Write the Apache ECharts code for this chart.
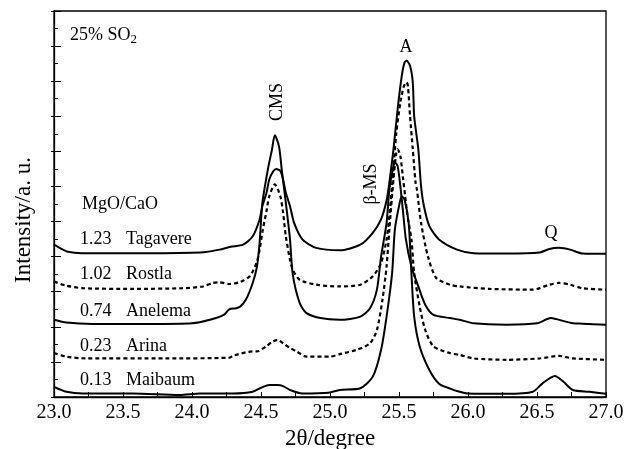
<!DOCTYPE html>
<html>
<head>
<meta charset="utf-8">
<title>XRD patterns, 25% SO2</title>
<script src="https://cdn.jsdelivr.net/npm/echarts@6/dist/echarts.min.js"></script>
<style>
  html, body { margin: 0; padding: 0; background: #fff; }
  #chart { width: 624px; height: 449px; }
</style>
</head>
<body>
<div id="chart"></div>
<script>
// Diffractograms (2θ, intensity with vertical offset) of sulfated samples
const tagavere = [
  [23.0,4.34],[23.05,4.23],[23.1,4.14],[23.2,4.1],[23.5,4.1],[23.8,4.1],[24.0,4.11],[24.1,4.13],
  [24.2,4.2],[24.28,4.28],[24.37,4.34],[24.44,4.58],[24.49,5.06],[24.51,5.44],[24.54,5.82],
  [24.56,6.2],[24.59,6.44],[24.61,6.5],[24.64,6.44],[24.66,6.2],[24.68,5.82],[24.71,5.44],
  [24.74,4.96],[24.8,4.49],[24.9,4.25],[25.07,4.18],[25.22,4.34],[25.31,4.68],[25.37,5.06],
  [25.41,5.6],[25.43,6.1],[25.46,7.06],[25.49,8.2],[25.52,9.15],[25.54,9.53],[25.555,9.58],
  [25.58,9.44],[25.6,8.96],[25.61,8.0],[25.64,7.06],[25.66,6.0],[25.68,5.45],[25.72,4.87],
  [25.79,4.49],[25.92,4.2],[26.04,4.1],[26.28,4.09],[26.52,4.12],[26.59,4.22],[26.66,4.25],
  [26.74,4.2],[26.83,4.09],[27.0,4.08]
];
const rostla = [
  [23.0,3.29],[23.09,3.17],[23.21,3.1],[23.57,3.08],[23.93,3.1],[24.08,3.15],[24.15,3.25],
  [24.2,3.27],[24.27,3.22],[24.35,3.28],[24.42,3.45],[24.47,3.85],[24.49,4.2],[24.51,4.7],
  [24.54,5.3],[24.56,5.72],[24.6,6.06],[24.64,5.72],[24.66,5.25],[24.68,4.58],[24.71,3.91],
  [24.73,3.63],[24.78,3.34],[24.9,3.2],[25.07,3.15],[25.22,3.2],[25.31,3.44],[25.37,3.82],
  [25.41,4.49],[25.43,5.15],[25.46,6.5],[25.48,7.5],[25.51,8.4],[25.535,8.85],[25.555,8.97],
  [25.565,8.85],[25.58,8.0],[25.6,7.06],[25.62,6.11],[25.63,5.91],[25.66,4.96],[25.71,4.0],
  [25.77,3.39],[25.87,3.2],[25.94,3.15],[26.16,3.08],[26.47,3.06],[26.59,3.2],[26.66,3.25],
  [26.74,3.2],[26.83,3.1],[27.0,3.06]
];
const anelema = [
  [23.0,2.2],[23.09,2.12],[23.28,2.08],[23.69,2.08],[24.0,2.1],[24.13,2.2],[24.23,2.34],
  [24.27,2.5],[24.32,2.53],[24.35,2.58],[24.39,2.77],[24.44,3.25],[24.47,3.7],[24.49,4.4],
  [24.51,5.53],[24.55,6.49],[24.58,7.06],[24.6,7.46],[24.63,7.15],[24.65,6.49],[24.68,5.53],
  [24.71,4.5],[24.73,3.5],[24.78,2.68],[24.83,2.39],[24.93,2.25],[25.07,2.2],[25.22,2.29],
  [25.29,2.53],[25.34,3.06],[25.37,4.0],[25.41,4.96],[25.43,5.91],[25.46,6.58],[25.47,6.68],
  [25.49,6.58],[25.51,6.0],[25.53,5.25],[25.55,4.49],[25.59,3.72],[25.64,3.15],[25.69,2.63],
  [25.75,2.34],[25.87,2.25],[25.94,2.2],[26.04,2.1],[26.28,2.06],[26.5,2.1],[26.6,2.25],
  [26.64,2.22],[26.76,2.1],[26.83,2.09],[27.0,2.06]
];
const arina = [
  [23.0,1.25],[23.09,1.15],[23.23,1.1],[23.81,1.1],[24.27,1.12],[24.3,1.18],[24.44,1.3],
  [24.47,1.3],[24.54,1.45],[24.58,1.57],[24.62,1.63],[24.66,1.53],[24.71,1.4],[24.76,1.29],
  [24.83,1.15],[25.0,1.15],[25.07,1.22],[25.19,1.34],[25.29,1.53],[25.34,1.91],[25.38,2.77],
  [25.41,3.72],[25.43,4.77],[25.46,6.2],[25.48,6.95],[25.49,7.06],[25.51,6.86],[25.53,6.2],
  [25.545,5.72],[25.56,5.2],[25.59,4.49],[25.61,3.53],[25.65,2.58],[25.69,1.91],[25.75,1.44],
  [25.87,1.25],[25.94,1.2],[26.04,1.1],[26.28,1.06],[26.52,1.1],[26.66,1.17],[26.76,1.1],
  [27.0,1.06]
];
const maibaum = [
  [23.0,0.29],[23.09,0.15],[23.21,0.1],[23.57,0.1],[23.91,0.06],[24.06,0.1],[24.3,0.1],
  [24.44,0.15],[24.51,0.28],[24.56,0.34],[24.62,0.34],[24.66,0.31],[24.71,0.2],[24.8,0.1],
  [24.99,0.12],[25.07,0.2],[25.22,0.25],[25.31,0.58],[25.37,1.34],[25.41,2.29],[25.45,3.53],
  [25.47,4.77],[25.5,5.44],[25.52,5.72],[25.54,5.63],[25.57,4.96],[25.59,3.53],[25.61,2.29],
  [25.65,1.44],[25.72,0.77],[25.79,0.38],[25.87,0.24],[25.94,0.15],[26.0,0.1],[26.28,0.09],
  [26.47,0.15],[26.54,0.39],[26.63,0.6],[26.69,0.44],[26.76,0.2],[26.88,0.15],[27.0,0.09]
];

// Sample legend: MgO/CaO ratio and deposit name, top to bottom
const ratios = ['1.23', '1.02', '0.74', '0.23', '0.13'];
const names = ['Tagavere', 'Rostla', 'Anelema', 'Arina', 'Maibaum'];
const xTicks = { min: 23.0, max: 27.0, step: 0.5 };

const SERIF = '"Liberation Serif", "Times New Roman", serif';
const chart = echarts.init(document.getElementById('chart'), null, { width: 624, height: 449 });

function curve(name, data, dashed) {
  return {
    name, type: 'line', data,
    showSymbol: false, smooth: 0.25, animation: false,
    lineStyle: { color: '#000', width: dashed ? 2.2 : 2, type: dashed ? [4, 3] : 'solid' },
    z: 3
  };
}

function txt(x, y, text, opts) {
  return Object.assign({
    type: 'text', x, y, silent: true,
    style: Object.assign({
      text, font: '18px ' + SERIF, fill: '#000', align: 'left', verticalAlign: 'middle'
    }, (opts && opts.style) || {})
  }, (opts && opts.el) || {});
}

const legendRows = [239, 274, 311, 346, 380];
const graphics = [
  txt(70, 35, '25% SO{s|2}', { style: { rich: { s: { font: '13px ' + SERIF, padding: [10, 0, 0, 0] } } } }),
  txt(277, 102, 'CMS', { style: { align: 'center' }, el: { rotation: Math.PI / 2 } }),
  txt(406, 47, 'A', { style: { align: 'center' } }),
  txt(371, 184, 'β-MS', { style: { align: 'center' }, el: { rotation: Math.PI / 2 } }),
  txt(551, 233, 'Q', { style: { align: 'center' } }),
  txt(82, 204, 'MgO/CaO'),
  txt(24, 220, 'Intensity/a. u.', { style: { align: 'center', font: '23px ' + SERIF }, el: { rotation: Math.PI / 2 } })
];
ratios.forEach((r, i) => {
  graphics.push(txt(80, legendRows[i], r));
  graphics.push(txt(126, legendRows[i], names[i]));
});

chart.setOption({
  animation: false,
  grid: {
    left: 54, top: 11, width: 552, height: 386,
    containLabel: false, outerBoundsMode: 'none',
    show: true, borderColor: '#000', borderWidth: 1.3
  },
  xAxis: [{
    type: 'value', min: xTicks.min, max: xTicks.max, interval: xTicks.step,
    axisLine: { show: true, lineStyle: { color: '#000', width: 1.3 } },
    axisTick: { show: true, inside: true, length: 5, lineStyle: { color: '#000' } },
    minorTick: { show: true, splitNumber: 2, length: 5, lineStyle: { color: '#000' } },
    splitLine: { show: false },
    axisLabel: { color: '#000', fontFamily: SERIF, fontSize: 20, margin: 6, formatter: v => v.toFixed(1) },
    name: '2θ/degree', nameLocation: 'middle', nameGap: 29,
    nameTextStyle: { color: '#000', fontFamily: SERIF, fontSize: 23 }
  }],
  yAxis: [{
    type: 'value', min: 0, max: 11, interval: 1,
    axisLine: { show: true, lineStyle: { color: '#000', width: 1.3 } },
    axisTick: { show: true, inside: true, length: 7, lineStyle: { color: '#000' } },
    minorTick: { show: true, splitNumber: 2, length: 4, lineStyle: { color: '#000' } },
    splitLine: { show: false },
    axisLabel: { show: false }
  }, {
    type: 'value', min: 0, max: 11, interval: 1, position: 'left',
    axisLine: { show: false },
    axisTick: { show: true, inside: false, length: 3, lineStyle: { color: '#000' } },
    splitLine: { show: false },
    axisLabel: { show: false }
  }],
  series: [
    curve('Tagavere', tagavere, false),
    curve('Rostla', rostla, true),
    curve('Anelema', anelema, false),
    curve('Arina', arina, true),
    curve('Maibaum', maibaum, false)
  ],
  graphic: graphics
});
</script>
</body>
</html>
